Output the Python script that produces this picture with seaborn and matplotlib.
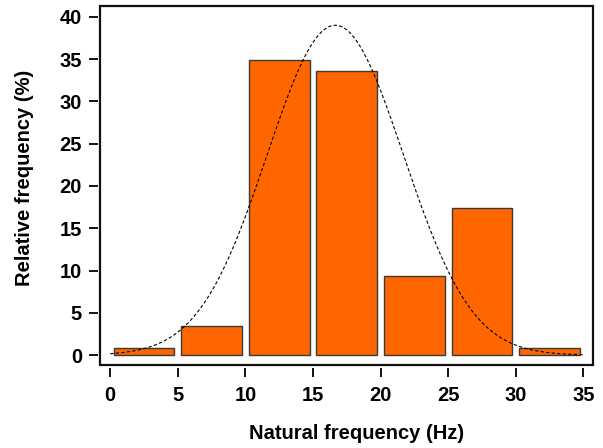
import numpy as np
import pandas as pd
import matplotlib
matplotlib.use("Agg")
import matplotlib.pyplot as plt
import seaborn as sns
from matplotlib.patches import Rectangle

# histogram bins (centres, Hz) and relative frequencies (%)
bin_centres = [2.5, 7.5, 12.5, 17.5, 22.5, 27.5, 32.5]
rel_freq = [0.8, 3.4, 34.9, 33.6, 9.4, 17.4, 0.8]

# fitted normal curve parameters
curve_mean = 16.65
curve_sd = 5.05
curve_peak = 39.0

x_ticks = [0, 5, 10, 15, 20, 25, 30, 35]
y_ticks = [0, 5, 10, 15, 20, 25, 30, 35, 40]

sns.set_style("white")
plt.rcParams["font.family"] = ["Liberation Sans", "DejaVu Sans"]
plt.rcParams["font.weight"] = "bold"
plt.rcParams["text.color"] = "black"
plt.rcParams["axes.labelcolor"] = "black"
plt.rcParams["xtick.color"] = "black"
plt.rcParams["ytick.color"] = "black"

df = pd.DataFrame({"freq": bin_centres, "rel": rel_freq})
xs = np.linspace(0, 35, 300)
curve = pd.DataFrame({"x": xs, "y": curve_peak * np.exp(-(xs - curve_mean) ** 2 / (2 * curve_sd ** 2))})

fig, ax = plt.subplots(figsize=(6.03, 4.48), dpi=100)
fig.subplots_adjust(left=0.166, right=0.983, top=0.987, bottom=0.185)

sns.barplot(data=df, x="freq", y="rel", native_scale=True, width=0.9,
            color="#FF6600", saturation=1, edgecolor="#3a3a3a", linewidth=1.0, ax=ax)
sns.lineplot(data=curve, x="x", y="y", color="black", linestyle=(0, (3, 2)),
             linewidth=0.8, ax=ax)

ax.set_xlim(-0.75, 35.7)
ax.set_ylim(-1.18, 41.3)
ax.set_xticks(x_ticks)
ax.set_yticks(y_ticks)

# detached R-style axes: ticks offset outward, frame drawn separately
for side in ["bottom", "left"]:
    ax.spines[side].set_position(("outward", 1.8))
    ax.spines[side].set_visible(False)
for side in ["top", "right"]:
    ax.spines[side].set_visible(False)
ax.add_patch(Rectangle((0, 0), 1, 1, transform=ax.transAxes, fill=False,
                       edgecolor="#111111", linewidth=1.6, clip_on=False, zorder=5))
ax.tick_params(axis="both", direction="out", length=6.5, width=1.3,
               labelsize=14.5, bottom=True, left=True)
ax.tick_params(axis="x", pad=7)
ax.tick_params(axis="y", pad=4.7)
for lab in ax.get_xticklabels() + ax.get_yticklabels():
    lab.set_fontweight("bold")

ax.set_xlabel("Natural frequency (Hz)", fontsize=14.5, fontweight="bold")
ax.set_ylabel("Relative frequency (%)", fontsize=14.5, fontweight="bold")
ax.xaxis.set_label_coords(0.52, -0.164)
ax.yaxis.set_label_coords(-0.135, 0.52)

fig.savefig("out.png", dpi=100)
